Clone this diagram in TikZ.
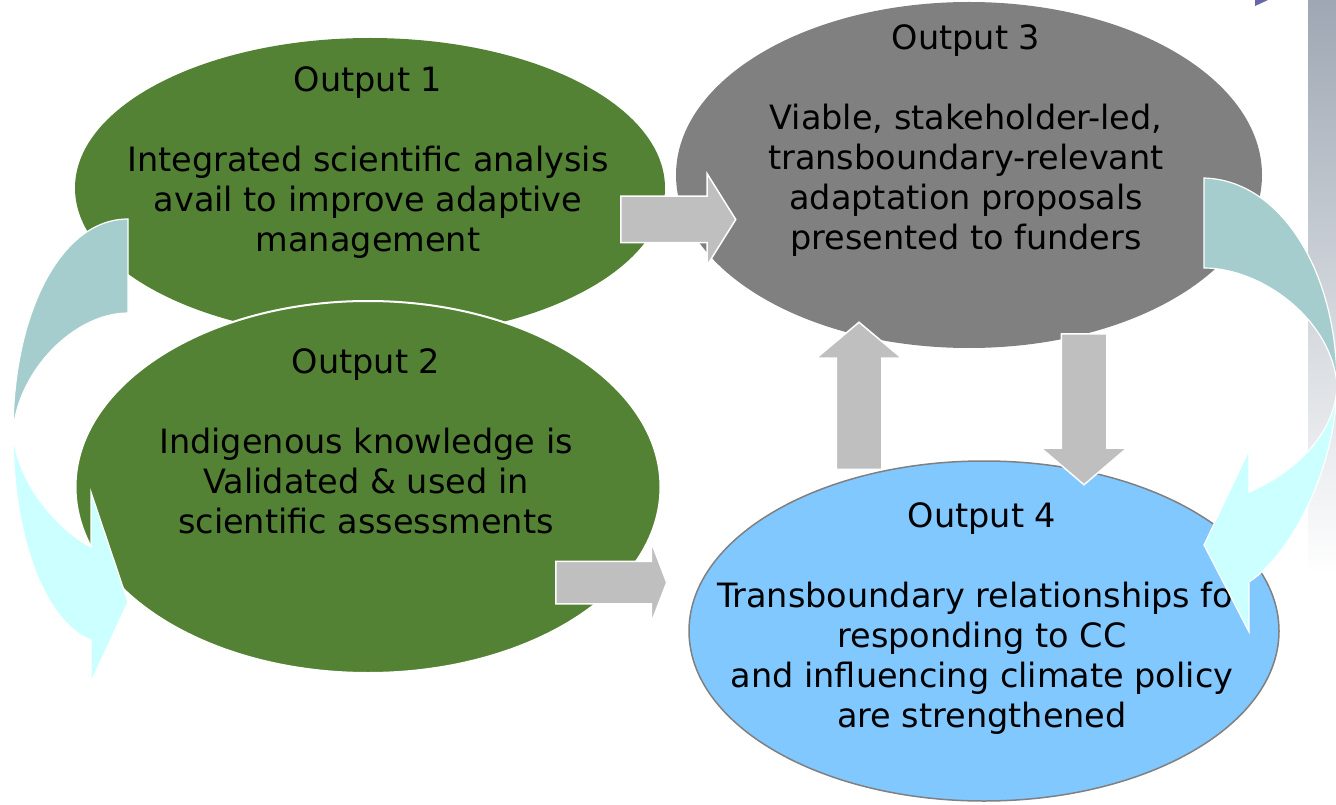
\documentclass[tikz,border=0pt]{standalone}
\usepackage{fontspec}
\setmainfont{DejaVu Sans}
\usetikzlibrary{shapes.geometric,shapes.arrows}
\definecolor{outgreen}{HTML}{548235}
\definecolor{outgray}{HTML}{808080}
\definecolor{outblue}{HTML}{80C8FF}
\definecolor{blockgray}{HTML}{BFBFBF}
\definecolor{loopdark}{HTML}{A5CDCD}
\definecolor{looplight}{HTML}{CCFFFF}
\definecolor{stripgray}{HTML}{9EA7B3}
\definecolor{cornerblue}{HTML}{6767A8}
\tikzset{
  oval/.style={ellipse, inner sep=0pt},
  outtext/.style={align=center, inner sep=0pt, font=\fontsize{33.5}{40}\selectfont},
  fatarrow/.style={single arrow, fill=blockgray, draw=white, line width=1.5pt,
    inner xsep=0pt, single arrow head indent=0pt, anchor=tail},
  loopband/.style={draw=white, line width=1.2pt}
}
\begin{document}
\begin{tikzpicture}[x=1pt,y=-1pt]
    \useasboundingbox (0,0) rectangle (1336,805);
    \clip (0,0) rectangle (1336,805);
    \shade[top color=stripgray, bottom color=white] (1308,0) rectangle (1336,575);
    \fill[cornerblue] (1255,0) -- (1268,0) -- (1255,6) -- cycle;

    \node[oval, fill=outgreen, minimum width=590pt, minimum height=300pt] (o1) at (370,188) {};
    \node[oval, fill=outgreen, draw=white, line width=2pt, minimum width=585pt, minimum height=372pt] (o2) at (368,487) {};
    \node[oval, fill=outgray, minimum width=586pt, minimum height=346pt] (o3) at (969,175) {};
    \node[oval, fill=outblue, draw=outgray, line width=1.5pt, minimum width=590pt, minimum height=340pt] (o4) at (984,631) {};

      \node[outtext] (t1) at (368,163) {Output 1\\[40pt]Integrated scientific analysis\\avail to improve adaptive\\management};
      \node[outtext] (t2) at (366,441) {Output 2\\[40pt]Indigenous knowledge is\\Validated \& used in\\scientific assessments};
      \node[outtext] (t3) at (966,141) {Output 3\\[40pt]Viable, stakeholder-led,\\transboundary-relevant\\adaptation proposals\\presented to funders};
      \node[outtext] (t4) at (982,619) {Output 4\\[40pt]Transboundary relationships for\\responding to CC\\and influencing climate policy\\are strengthened};

    \node[fatarrow, minimum height=115pt, inner ysep=22.5pt, single arrow head extend=22.5pt, single arrow tip angle=116] (a13) at (620,219.5) {};
    \node[fatarrow, minimum height=111pt, inner ysep=20.5pt, single arrow head extend=19pt, single arrow tip angle=138] (a24) at (555,582.5) {};
    \node[fatarrow, rotate=90, minimum height=147pt, inner ysep=22pt, single arrow head extend=20pt, single arrow tip angle=100] (a43) at (859,470) {};
    \node[fatarrow, rotate=-90, minimum height=151pt, inner ysep=22pt, single arrow head extend=20pt, single arrow tip angle=99] (a34) at (1084,333) {};

    \draw[loopband, fill=loopdark] (128,219) .. controls (60,219) and (13,315) .. (13,432)
    .. controls (18,370) and (75,313) .. (128,313) -- cycle;
    \draw[loopband, fill=looplight] (13,432) .. controls (13,548) and (50,625) .. (91,640)
    -- (91,682) -- (128,602) -- (91,492) -- (91,547) .. controls (55,528) and (16,480) .. (13,432) -- cycle;
    \draw[loopband, fill=loopdark] (1204,178) .. controls (1280,180) and (1337,270) .. (1337,385)
    .. controls (1332,320) and (1262,268) .. (1204,268) -- cycle;
    \draw[loopband, fill=looplight] (1337,385) .. controls (1336,470) and (1290,555) .. (1249,582)
    -- (1249,632) -- (1204,545) -- (1249,450) -- (1249,492) .. controls (1300,470) and (1336,430) .. (1337,385) -- cycle;
  \end{tikzpicture}
\end{document}
